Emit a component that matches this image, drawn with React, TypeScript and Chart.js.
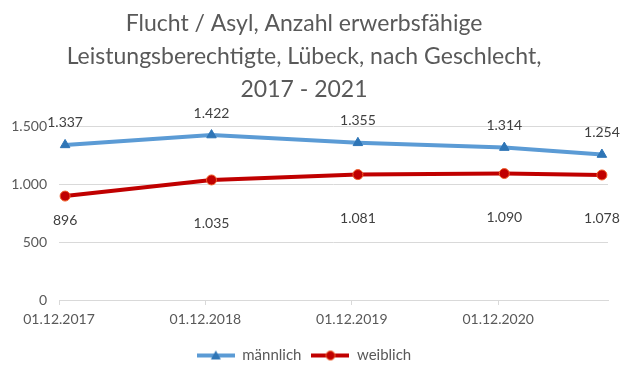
import React, { useEffect, useRef } from "react";
import { Chart, registerables } from "chart.js";

Chart.register(...registerables);

const categories = ["01.12.2017", "01.12.2018", "01.12.2019", "01.12.2020", "01.08.2021"];
const maennlich = [1337, 1422, 1355, 1314, 1254];
const weiblich = [896, 1035, 1081, 1090, 1078];
const xTickLabels = ["01.12.2017", "01.12.2018", "01.12.2019", "01.12.2020"];
const yTickValues = [0, 500, 1000, 1500];
const titleLines = [
  "Flucht / Asyl, Anzahl erwerbsfähige",
  "Leistungsberechtigte, Lübeck, nach Geschlecht,",
  "2017 - 2021",
];
const seriesNames = ["männlich", "weiblich"];

const FONT = "Lato, 'Open Sans', sans-serif";

function fmt(n: number): string {
  return String(Math.round(n)).replace(/\B(?=(\d{3})+(?!\d))/g, ".");
}

// month index relative to 12/2017, positioned at mid-month (Excel month-based date axis)
function monthPos(s: string): number {
  const [, m, y] = s.split(".").map(Number);
  return (y - 2017) * 12 + (m - 12) + 0.5;
}
function tickMonth(s: string): number {
  const [, m, y] = s.split(".").map(Number);
  return (y - 2017) * 12 + (m - 12);
}

const BLUE = "#5B9BD5";
const BLUE_DARK = "#2E75B6";
const RED = "#C00000";
const RED_RIM = "#F0602A";

function makeLegendIcon(kind: "tri" | "circle"): HTMLCanvasElement {
  const c = document.createElement("canvas");
  c.width = 38;
  c.height = 12;
  const ctx = c.getContext("2d")!;
  ctx.strokeStyle = kind === "tri" ? BLUE : RED;
  ctx.lineWidth = 4;
  ctx.beginPath();
  ctx.moveTo(0, 6);
  ctx.lineTo(38, 6);
  ctx.stroke();
  if (kind === "tri") {
    ctx.fillStyle = BLUE_DARK;
    ctx.beginPath();
    ctx.moveTo(19, 1);
    ctx.lineTo(24, 10);
    ctx.lineTo(14, 10);
    ctx.closePath();
    ctx.fill();
  } else {
    ctx.fillStyle = RED;
    ctx.strokeStyle = RED_RIM;
    ctx.lineWidth = 1;
    ctx.beginPath();
    ctx.arc(19, 6, 4.5, 0, Math.PI * 2);
    ctx.fill();
    ctx.stroke();
  }
  return c;
}

const dataLabelPlugin = {
  id: "dataLabels",
  afterDatasetsDraw(chart: any) {
    const ctx = chart.ctx;
    ctx.save();
    ctx.font = `14px ${FONT}`;
    ctx.fillStyle = "#404040";
    ctx.textAlign = "center";
    ctx.textBaseline = "middle";
    chart.data.datasets.forEach((ds: any, di: number) => {
      const meta = chart.getDatasetMeta(di);
      meta.data.forEach((pt: any, i: number) => {
        const v = ds.data[i].y;
        let dy: number;
        if (di === 0) dy = -22;
        else dy = i === 0 ? 24 : 44;
        ctx.fillText(fmt(v), pt.x, pt.y + dy);
      });
    });
    ctx.restore();
  },
};

export default function App() {
  const ref = useRef<HTMLCanvasElement>(null);

  useEffect(() => {
    document.body.style.margin = "0";
    const icons = [makeLegendIcon("tri"), makeLegendIcon("circle")];
    const chart = new Chart(ref.current!, {
      type: "line",
      data: {
        datasets: [
          {
            label: seriesNames[0],
            data: categories.map((c, i) => ({ x: monthPos(c), y: maennlich[i] })),
            borderColor: BLUE,
            borderWidth: 4,
            pointStyle: "triangle",
            pointRadius: 5.5,
            pointBackgroundColor: BLUE_DARK,
            pointBorderColor: BLUE_DARK,
            pointBorderWidth: 1,
            tension: 0,
          },
          {
            label: seriesNames[1],
            data: categories.map((c, i) => ({ x: monthPos(c), y: weiblich[i] })),
            borderColor: RED,
            borderWidth: 4,
            pointStyle: "circle",
            pointRadius: 5,
            pointBackgroundColor: RED,
            pointBorderColor: RED_RIM,
            pointBorderWidth: 1,
            tension: 0,
          },
        ],
      },
      options: {
        animation: false,
        responsive: false,
        maintainAspectRatio: false,
        layout: { padding: { left: 0, right: 19, top: 0, bottom: 10 } },
        plugins: {
          title: {
            display: true,
            text: titleLines,
            color: "#595959",
            font: { family: FONT, size: 23, weight: "normal", lineHeight: 1.435 },
            padding: { top: 7.5, bottom: 19.5 },
          },
          legend: {
            position: "bottom",
            labels: {
              usePointStyle: true,
              pointStyleWidth: 38,
              boxHeight: 12,
              padding: 10,
              color: "#595959",
              font: { family: FONT, size: 15 },
              generateLabels(chart: any) {
                const items = Chart.defaults.plugins.legend.labels.generateLabels(chart);
                items.forEach((it: any, i: number) => {
                  it.pointStyle = icons[i];
                });
                return items;
              },
            },
          },
          tooltip: { enabled: false },
        },
        scales: {
          x: {
            type: "linear",
            min: 0,
            max: 45,
            afterBuildTicks(scale: any) {
              scale.ticks = xTickLabels.map((l) => ({ value: tickMonth(l) }));
            },
            afterFit(scale: any) {
              scale.height = 38;
            },
            ticks: {
              color: "#595959",
              font: { family: FONT, size: 14 },
              padding: 6,
              maxRotation: 0,
              autoSkip: false,
              callback(value: any) {
                const idx = xTickLabels.findIndex((l) => tickMonth(l) === value);
                return idx >= 0 ? xTickLabels[idx] : "";
              },
            },
            grid: {
              drawOnChartArea: false,
              drawTicks: true,
              tickLength: 5,
              color: "#D9D9D9",
            },
            border: { display: true, color: "#D9D9D9", width: 1 },
          },
          y: {
            min: 0,
            max: 1500,
            afterBuildTicks(scale: any) {
              scale.ticks = yTickValues.map((v) => ({ value: v }));
            },
            afterFit(scale: any) {
              scale.width = 59;
            },
            ticks: {
              color: "#595959",
              font: { family: FONT, size: 14 },
              padding: 12,
              callback(value: any) {
                return fmt(Number(value));
              },
            },
            grid: { color: "#D9D9D9", drawTicks: false },
            border: { display: false },
          },
        },
      },
      plugins: [dataLabelPlugin],
    } as any);
    return () => chart.destroy();
  }, []);

  return (
    <div style={{ width: 627, height: 383, background: "#fff" }}>
      <canvas ref={ref} width={627} height={383} style={{ display: "block" }} />
    </div>
  );
}
